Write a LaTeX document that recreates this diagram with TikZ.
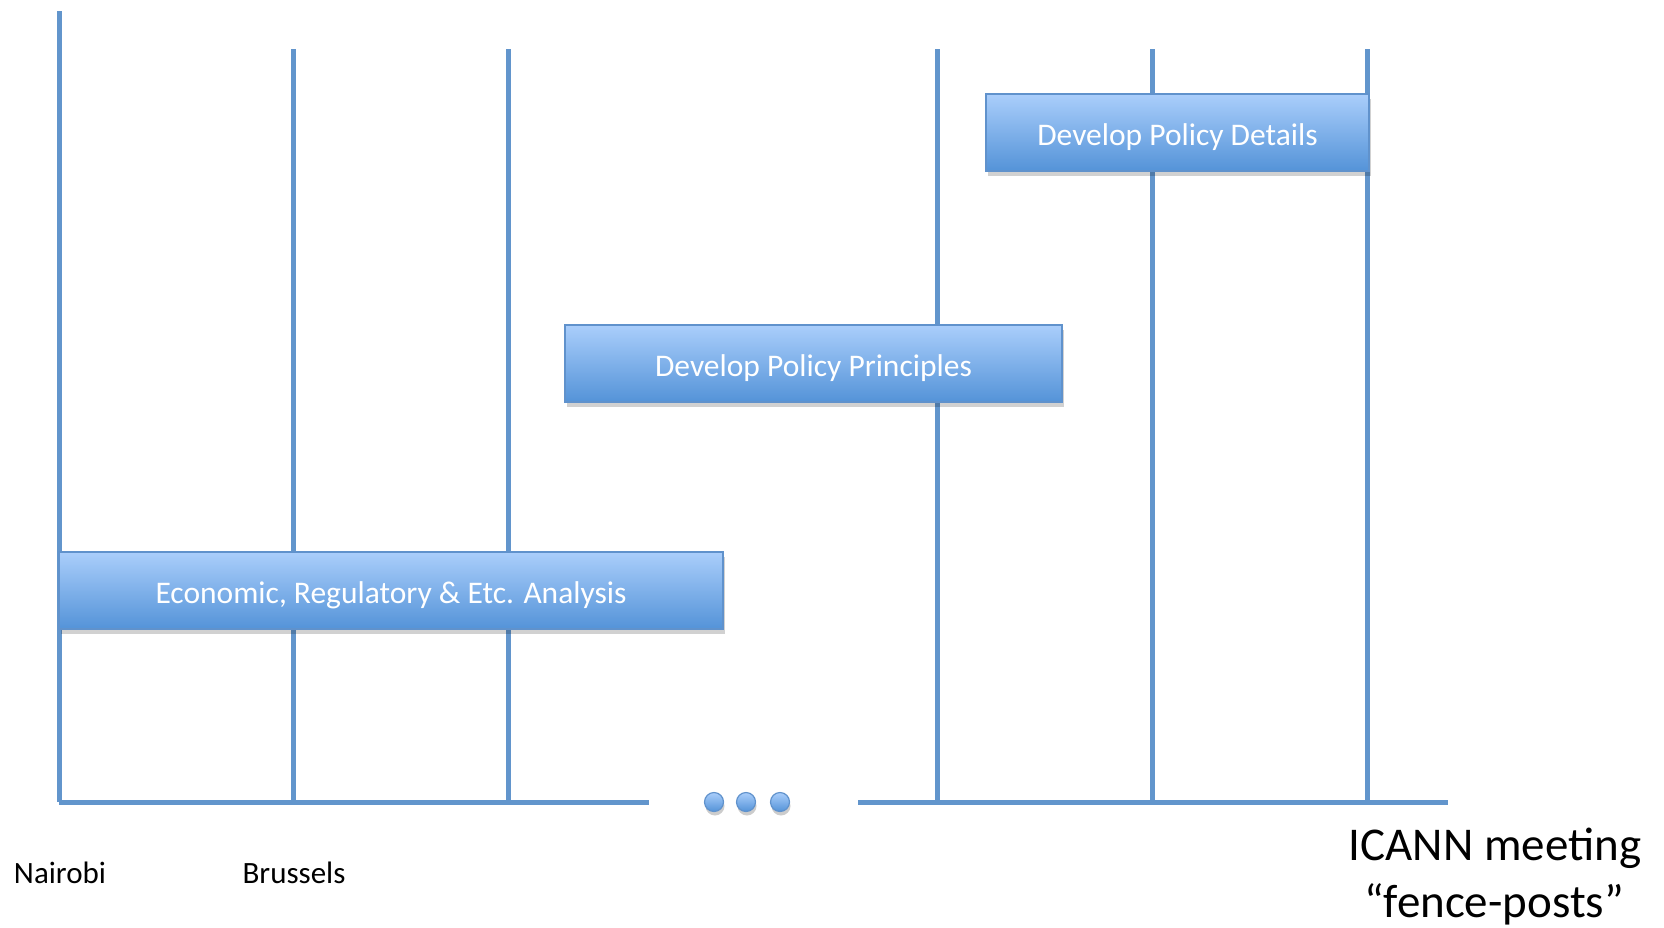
\documentclass[tikz,border=0pt]{standalone}
\usepackage{fontspec}
\setmainfont{Carlito}
\usetikzlibrary{shadows}
\definecolor{postblue}{RGB}{98,149,204}
\definecolor{boxtop}{RGB}{170,206,251}
\definecolor{boxbot}{RGB}{84,147,216}
\definecolor{boxedge}{RGB}{96,146,204}
\tikzset{
  post/.style={line width=5pt, draw=postblue},
  postshadow/.style={line width=5pt, draw=black, opacity=0.10},
  phasebox/.style={rectangle, draw=boxedge, line width=1.5pt, top color=boxtop, bottom color=boxbot,
    text=white, font=\fontsize{31.5}{37}\selectfont, inner sep=0pt, text height=25pt, text depth=0pt,
    drop shadow={shadow xshift=2pt, shadow yshift=-5pt, opacity=0.18, fill=black}},
  dot/.style={circle, draw=boxedge, line width=1.2pt, top color=boxtop, bottom color=boxbot,
    minimum size=19pt, inner sep=0pt,
    drop shadow={shadow xshift=1pt, shadow yshift=-4pt, opacity=0.2, fill=black}},
  place/.style={font=\fontsize{31}{37}\selectfont, text=black, inner sep=0pt, anchor=base},
  bigplace/.style={font=\fontsize{47}{56}\selectfont, text=black, inner sep=0pt, anchor=base}
}
\begin{document}
\begin{tikzpicture}[x=1pt,y=-1pt]
\useasboundingbox (0,0) rectangle (1664,927);
% post coordinates
\coordinate (t1) at (59,11);   \coordinate (b1) at (59,802);
\coordinate (t2) at (293,49);  \coordinate (b2) at (293,802);
\coordinate (t3) at (508,49);  \coordinate (b3) at (508,802);
\coordinate (t4) at (937,49);  \coordinate (b4) at (937,802);
\coordinate (t5) at (1152,49); \coordinate (b5) at (1152,802);
\coordinate (t6) at (1367,49); \coordinate (b6) at (1367,802);
\coordinate (lend) at (649,802);
\coordinate (rstart) at (858,802);
\coordinate (rend) at (1448,802);
% shadows of lines
\begin{scope}[shift={(2,3)}]
\foreach \i in {1,...,6} {\draw[postshadow] (t\i) -- (b\i);}
\draw[postshadow] (b1) -- (lend);
\draw[postshadow] (rstart) -- (rend);
\end{scope}
% posts
\foreach \i in {1,...,6} {\draw[post] (t\i) -- (b\i);}
\draw[post] (b1) -- (lend);
\draw[post] (rstart) -- (rend);
% boxes
\node[phasebox, minimum width=664pt, minimum height=77pt] (analysis) at (391,590.5) {Economic, Regulatory \& Etc. Analysis};
\node[phasebox, minimum width=497pt, minimum height=77pt] (principles) at (813.5,363.5) {Develop Policy Principles};
\node[phasebox, minimum width=383pt, minimum height=77pt] (details) at (1177.5,132.5) {Develop Policy Details};
% dots
\node[dot] (d1) at (714,802) {};
\node[dot] (d2) at (746,802) {};
\node[dot] (d3) at (780,802) {};
% labels
\node[place] (nairobi) at (60,883) {Nairobi};
\node[place] (brussels) at (294,883) {Brussels};
\node[bigplace] (icann) at (1495,860) {ICANN meeting};
\node[bigplace] (fence) at (1494,917) {“fence-posts”};
\end{tikzpicture}
\end{document}
